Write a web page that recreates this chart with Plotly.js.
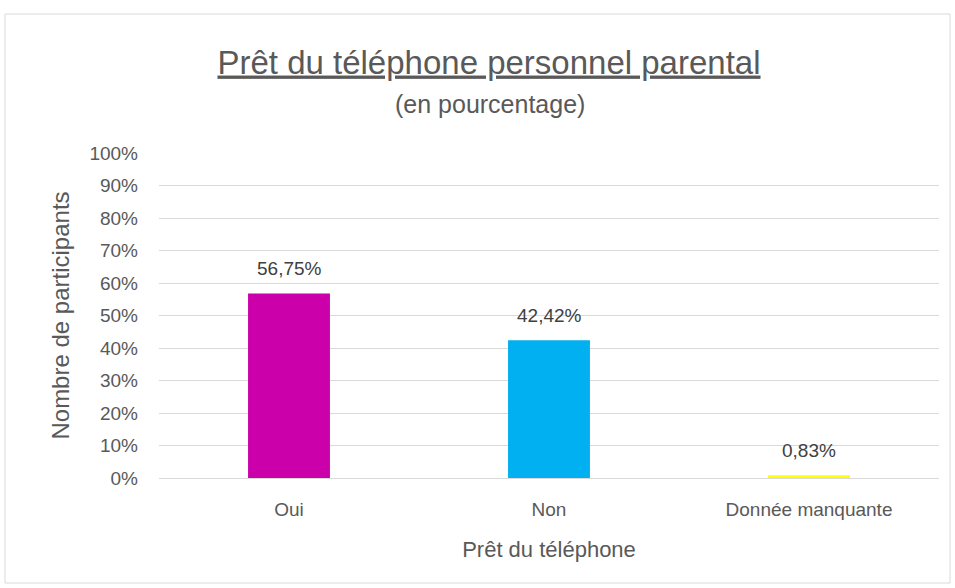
<!DOCTYPE html>
<html><head><meta charset="utf-8">
<script src="https://cdn.plot.ly/plotly-3.0.1.min.js"></script>
<style>body{margin:0;background:#fff}#chart{width:955px;height:588px}</style>
</head><body><div id="chart"></div>
<script>
var categories = ['Oui', 'Non', 'Donnée manquante'];
var values = [56.75, 42.42, 0.83];
var barColors = ['#CC00AA', '#00B0F0', '#FFFF00'];
var yTickVals = [0,10,20,30,40,50,60,70,80,90,100];
var yTickText = yTickVals.map(function(v){return v + '%';});
var labels = values.map(function(v){return v.toFixed(2).replace('.', ',') + '%';});

var fontFam = 'Liberation Sans, Arial, sans-serif';
var trace = {
  type: 'bar', x: categories, y: values,
  marker: {color: barColors},
  hoverinfo: 'none'
};
var L = 159, R = 939, T = 153, B = 478;
var W = R - L, H = B - T;
var dataLabels = categories.map(function(c, i){
  return {
    x: c, y: values[i], xref: 'x', yref: 'y', text: labels[i],
    showarrow: false, xanchor: 'center', yanchor: 'middle', yshift: 25,
    font: {family: fontFam, size: 19, color: '#404040'}
  };
});
var layout = {
  width: 955, height: 588,
  margin: {l: L, r: 955 - R, t: T, b: 588 - B},
  paper_bgcolor: '#fff', plot_bgcolor: '#fff',
  showlegend: false, bargap: 0.685,
  font: {family: fontFam, color: '#595959'},
  title: {
    text: '<u>Prêt du téléphone personnel parental</u>',
    font: {family: fontFam, size: 33, color: '#595959'},
    x: 489 / 955, xref: 'container', xanchor: 'center', y: 1 - 62/588, yanchor: 'middle'
  },
  annotations: [{
    text: '(en pourcentage)', xref: 'paper', yref: 'paper',
    x: (490 - L) / W, y: (B - 104) / H, xanchor: 'center', yanchor: 'middle',
    showarrow: false, font: {family: fontFam, size: 25, color: '#595959'}
  }].concat(dataLabels),
  xaxis: {
    showgrid: false, zeroline: false, showline: false, ticks: '',
    tickfont: {size: 19, color: '#595959'}, ticklabelstandoff: 18,
    title: {text: 'Prêt du téléphone', font: {size: 22, color: '#595959'}, standoff: 22}
  },
  yaxis: {
    range: [0, 100], tickvals: yTickVals, ticktext: yTickText,
    showgrid: true, gridcolor: '#D9D9D9', gridwidth: 1,
    zeroline: true, zerolinecolor: '#D9D9D9', zerolinewidth: 1,
    showline: false, ticks: '', ticklabelstandoff: 20,
    tickfont: {size: 19, color: '#595959'},
    title: {text: 'Nombre de participants', font: {size: 24, color: '#595959'}, standoff: 12}
  },
  shapes: [{
    type: 'rect', xref: 'paper', yref: 'paper', layer: 'below',
    x0: (5 - L) / W, x1: (950 - L) / W, y0: (B - 583) / H, y1: (B - 14) / H,
    line: {color: '#D9D9D9', width: 1}, fillcolor: 'rgba(0,0,0,0)'
  }]
};
Plotly.newPlot('chart', [trace], layout, {displayModeBar: false, staticPlot: true});
</script></body></html>
